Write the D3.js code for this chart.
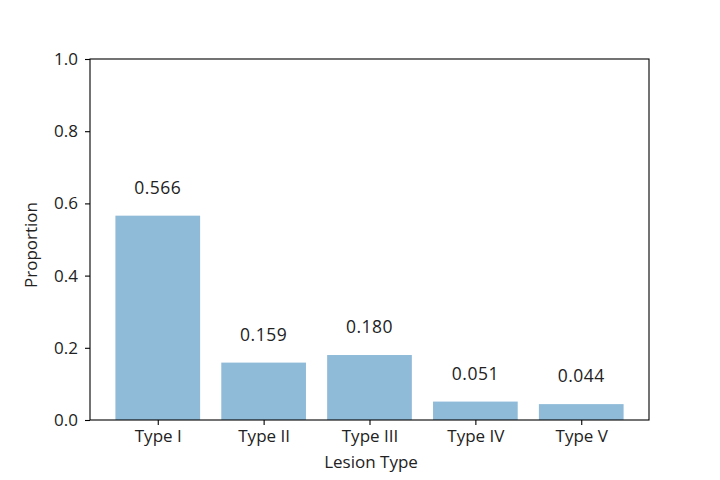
<!DOCTYPE html>
<html>
<head>
<meta charset="utf-8">
<script src="https://cdn.jsdelivr.net/npm/d3@7"></script>
<style>
  html, body { margin: 0; padding: 0; background: #fff; }
  svg { display: block; font-family: "Open Sans", sans-serif; }
</style>
</head>
<body>
<svg id="chart" width="720" height="480"></svg>
<script>
const categories = ["Type I", "Type II", "Type III", "Type IV", "Type V"];
const values = [0.566, 0.159, 0.180, 0.051, 0.044];
const labels = ["0.566", "0.159", "0.180", "0.051", "0.044"];
const yTicks = [0.0, 0.2, 0.4, 0.6, 0.8, 1.0];

const svg = d3.select("#chart");
const mLeft = 90, mRight = 649, mTop = 59, mBottom = 420;
const font = "Open Sans, sans-serif";
const textColor = "#222";

const x = d3.scaleLinear().domain([-0.64, categories.length - 1 + 0.64]).range([mLeft, mRight]);
const y = d3.scaleLinear().domain([0, 1]).range([mBottom, mTop]);
const barW = 0.8;

// bars
svg.append("g").selectAll("rect").data(values).join("rect")
  .attr("x", (d, i) => x(i - barW / 2))
  .attr("width", (d, i) => x(i + barW / 2) - x(i - barW / 2))
  .attr("y", d => y(d))
  .attr("height", d => y(0) - y(d))
  .attr("fill", "#1f77b4")
  .attr("fill-opacity", 0.5);

// value labels
svg.append("g").selectAll("text").data(values).join("text")
  .attr("x", (d, i) => x(i))
  .attr("y", d => y(d + 0.06))
  .attr("text-anchor", "middle")
  .attr("font-family", font)
  .attr("font-size", "17.5px")
  .attr("letter-spacing", "0.5px")
  .attr("fill", textColor)
  .text((d, i) => labels[i]);

// axes
const xAxis = d3.axisBottom(x)
  .tickValues(d3.range(categories.length))
  .tickFormat(i => categories[i])
  .tickSize(5).tickPadding(5).tickSizeOuter(0);
const gx = svg.append("g").attr("transform", `translate(0,${mBottom})`).call(xAxis);

const yAxis = d3.axisLeft(y)
  .tickValues(yTicks)
  .tickFormat(d3.format(".1f"))
  .tickSize(5).tickPadding(7).tickSizeOuter(0);
const gy = svg.append("g").attr("transform", `translate(${mLeft},0)`).call(yAxis);

[gx, gy].forEach(g => {
  g.select(".domain").remove();
  g.selectAll(".tick line").attr("stroke", "#000").attr("stroke-width", 1.1);
  g.selectAll(".tick text").attr("font-size", "17px").attr("fill", textColor)
    .attr("font-family", font);
});

// frame
svg.append("rect")
  .attr("x", mLeft).attr("y", mTop)
  .attr("width", mRight - mLeft).attr("height", mBottom - mTop)
  .attr("fill", "none").attr("stroke", "#000").attr("stroke-width", 1.1);

// axis titles
svg.append("text")
  .attr("x", 371).attr("y", 468)
  .attr("text-anchor", "middle").attr("font-family", font)
  .attr("font-size", "17px").attr("fill", textColor)
  .text("Lesion Type");
svg.append("text")
  .attr("transform", `translate(37,245) rotate(-90)`)
  .attr("text-anchor", "middle").attr("font-family", font)
  .attr("font-size", "17px").attr("fill", textColor)
  .text("Proportion");
</script>
</body>
</html>
